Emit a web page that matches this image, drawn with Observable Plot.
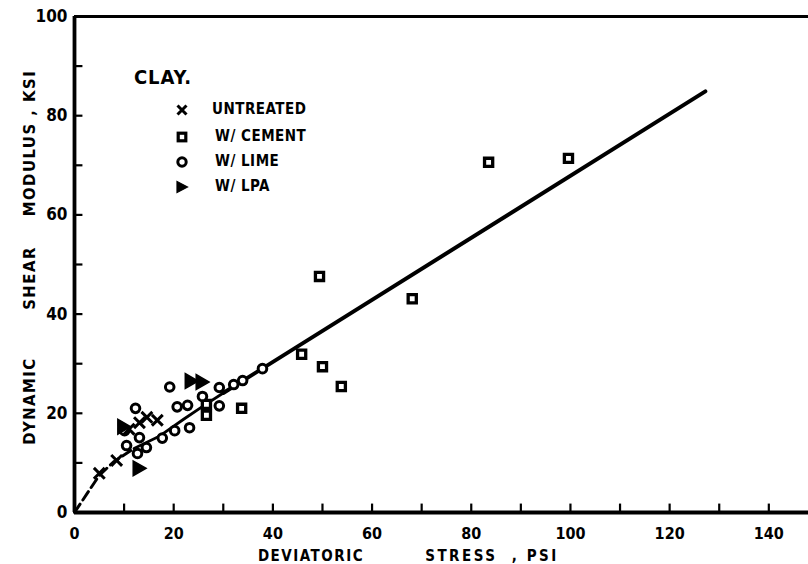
<!DOCTYPE html>
<html>
<head>
<meta charset="utf-8">
<script src="https://cdn.jsdelivr.net/npm/d3@7"></script>
<script src="https://cdn.jsdelivr.net/npm/@observablehq/plot@0.6"></script>
<style>
  html, body { margin: 0; padding: 0; background: #fff; }
  #wrap { position: relative; width: 808px; height: 564px; overflow: hidden; background: #fff; }
  .lbl { position: absolute; font-family: "DejaVu Sans Condensed", "Liberation Sans Narrow", "DejaVu Sans", sans-serif;
         font-stretch: condensed; font-weight: bold; color: #000; white-space: pre; line-height: 1; }
  .c { transform: translate(-50%, -50%); }
  .r { transform: translate(-50%, -50%) rotate(-90deg); }
</style>
</head>
<body>
<div id="wrap"></div>
<script>
// ---------- data ----------
const xTickLabels = [0, 20, 40, 60, 80, 100, 120, 140];
const yTickLabels = [0, 20, 40, 60, 80, 100];
const xMinorTicks = [10, 20, 30, 40, 50, 60, 70, 80, 90, 100, 110, 120, 130, 140];
const yMinorTicks = [10, 20, 30, 40, 50, 60, 70, 80, 90];

// Untreated clay (x marks): [deviatoric stress psi, shear modulus ksi]
const untreated = [[5.0, 7.9], [8.5, 10.5], [13.1, 18.1], [14.6, 19.2], [16.7, 18.6], [11.0, 16.8]];
// Clay with cement (squares)
const cement = [[83.5, 70.6], [99.6, 71.4], [49.4, 47.6], [68.1, 43.1], [45.8, 31.9], [50.0, 29.4],
                [53.8, 25.4], [33.7, 21.0], [26.6, 19.6], [26.6, 21.8]];
// Clay with lime (circles)
const lime = [[37.9, 29.0], [33.9, 26.6], [32.1, 25.8], [29.2, 25.2], [25.8, 23.4], [19.2, 25.3],
              [20.7, 21.3], [22.8, 21.6], [29.2, 21.5], [20.2, 16.5], [23.2, 17.1], [17.7, 15.0],
              [10.1, 16.5], [13.1, 15.1], [10.5, 13.5], [14.5, 13.1], [12.7, 11.9], [12.3, 21.0]];
// Clay with LPA (triangles)
const lpa = [[12.7, 8.9], [23.2, 26.5], [25.4, 26.3], [9.6, 17.3]];

// Trend curve
const curveDashed = [[0, 0], [5, 7.5], [8, 10.3], [12, 12.9]];
const curveThin = [[12, 12.9], [17, 15.3], [22, 18.8], [26, 21.5], [30, 24.1]];
const fitLine = [[30, 24.1], [127.2, 84.9]];

// ---------- chart ----------
const FONT = '"DejaVu Sans Condensed", "Liberation Sans Narrow", "DejaVu Sans", sans-serif';
const chart = Plot.plot({
  width: 808,
  height: 564,
  marginLeft: 74,
  marginRight: 0,
  marginTop: 16,
  marginBottom: 52,
  style: { fontFamily: FONT, fontWeight: "bold", background: "white", overflow: "visible" },
  x: { domain: [0, 148] },
  y: { domain: [0, 100] },
  marks: [
    Plot.axisX({ ticks: xTickLabels, tickSize: 0, tickPadding: 15, fontSize: 16, fontWeight: "bold", label: null, tickFormat: d => String(d) }),
    Plot.axisY({ ticks: yTickLabels, tickSize: 0, tickPadding: 7, fontSize: 17, fontWeight: "bold", label: null, tickFormat: d => String(d) }),
    Plot.ruleX(xMinorTicks, { y1: 0, y2: 1.7, stroke: "black", strokeWidth: 2.2 }),
    Plot.ruleY(yMinorTicks, { x1: 0, x2: 1.7, stroke: "black", strokeWidth: 2.2 }),
    Plot.ruleY([0], { stroke: "black", strokeWidth: 3.8 }),
    Plot.ruleY([100], { stroke: "black", strokeWidth: 3.2 }),
    Plot.ruleX([0], { stroke: "black", strokeWidth: 3.8 }),
    Plot.line(curveDashed, { x: d => d[0], y: d => d[1], stroke: "black", strokeWidth: 3, strokeDasharray: "10,5" }),
    Plot.line(curveThin, { x: d => d[0], y: d => d[1], stroke: "black", strokeWidth: 2.8 }),
    Plot.line(fitLine, { x: d => d[0], y: d => d[1], stroke: "black", strokeWidth: 4 }),
    Plot.dot(cement, { x: d => d[0], y: d => d[1], symbol: "square", r: 4.6, stroke: "black", strokeWidth: 3.3, fill: "white" }),
    Plot.dot(lime, { x: d => d[0], y: d => d[1], symbol: "circle", r: 4.3, stroke: "black", strokeWidth: 3, fill: "white" }),
    Plot.dot(untreated, { x: d => d[0], y: d => d[1], symbol: "times", r: 5, stroke: "black", strokeWidth: 3 }),
    Plot.dot(lpa, { x: d => d[0], y: d => d[1], symbol: "triangle", rotate: 90, r: 5.5, fill: "black", stroke: "black", strokeWidth: 1.5 })
  ]
});
const wrap = document.getElementById("wrap");
wrap.appendChild(chart);

// ---------- titles & legend (HTML overlays) ----------
function addLabel(text, left, top, cls, size, spacing) {
  const d = document.createElement("div");
  d.className = "lbl " + cls;
  d.textContent = text;
  d.style.left = left + "px";
  d.style.top = top + "px";
  d.style.fontSize = size + "px";
  d.style.letterSpacing = spacing + "px";
  wrap.appendChild(d);
}
addLabel("DYNAMIC", 30, 401, "r", 16.5, 1.5);
addLabel("SHEAR", 30, 278, "r", 16.5, 1.5);
addLabel("MODULUS , KSI", 30, 143, "r", 16.5, 1.5);
addLabel("DEVIATORIC", 311, 556, "c", 15, 1.5);
addLabel("STRESS  , PSI", 492, 556, "c", 15, 2.5);

// legend
addLabel("CLAY.", 163, 77, "c", 20, 1);
const legendItems = [
  { label: "UNTREATED", sym: "times" },
  { label: "W/ CEMENT", sym: "square" },
  { label: "W/ LIME", sym: "circle" },
  { label: "W/ LPA", sym: "triangle" }
];
const rowsY = [110, 137, 162, 187];
legendItems.forEach((it, i) => {
  const ns = "http://www.w3.org/2000/svg";
  const s = document.createElementNS(ns, "svg");
  s.setAttribute("width", 16); s.setAttribute("height", 16);
  s.style.position = "absolute";
  s.style.left = (182 - 8) + "px";
  s.style.top = (rowsY[i] - 8) + "px";
  let el;
  if (it.sym === "times") {
    el = document.createElementNS(ns, "path");
    el.setAttribute("d", "M3.5,3.5L12.5,12.5M12.5,3.5L3.5,12.5");
    el.setAttribute("stroke", "black"); el.setAttribute("stroke-width", 3); el.setAttribute("fill", "none");
  } else if (it.sym === "square") {
    el = document.createElementNS(ns, "rect");
    el.setAttribute("x", 4.2); el.setAttribute("y", 4.2); el.setAttribute("width", 7.6); el.setAttribute("height", 7.6);
    el.setAttribute("stroke", "black"); el.setAttribute("stroke-width", 3.2); el.setAttribute("fill", "white");
  } else if (it.sym === "circle") {
    el = document.createElementNS(ns, "circle");
    el.setAttribute("cx", 8); el.setAttribute("cy", 8); el.setAttribute("r", 4.2);
    el.setAttribute("stroke", "black"); el.setAttribute("stroke-width", 3); el.setAttribute("fill", "white");
  } else {
    el = document.createElementNS(ns, "path");
    el.setAttribute("d", "M3,2.5L13.5,8L3,13.5Z");
    el.setAttribute("fill", "black"); el.setAttribute("stroke", "black"); el.setAttribute("stroke-width", 1.2);
  }
  s.appendChild(el);
  wrap.appendChild(s);
  const d = document.createElement("div");
  d.className = "lbl";
  d.textContent = it.label;
  d.style.left = (i === 0 ? 212 : 215) + "px";
  d.style.top = (rowsY[i] - 8) + "px";
  d.style.fontSize = "15px";
  d.style.letterSpacing = "0.5px";
  wrap.appendChild(d);
});
</script>
</body>
</html>
